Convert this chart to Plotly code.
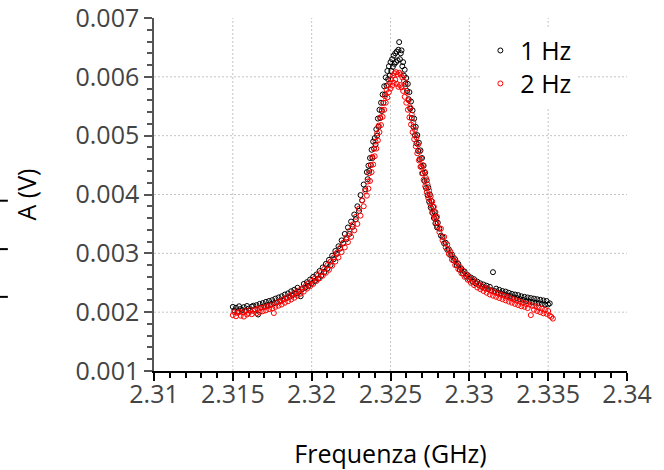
import plotly.graph_objects as go

# Frequencies (MHz) shared by both measurements
freq_mhz = [
    2315.0, 2315.1, 2315.2, 2315.3, 2315.4, 2315.5, 2315.6, 2315.7, 2315.8, 2315.9,
    2316.0, 2316.1, 2316.2, 2316.3, 2316.4, 2316.5, 2316.6, 2316.7, 2316.8, 2316.9,
    2317.0, 2317.1, 2317.2, 2317.3, 2317.4, 2317.5, 2317.6, 2317.7, 2317.8, 2317.9,
    2318.0, 2318.1, 2318.2, 2318.3, 2318.4, 2318.5, 2318.6, 2318.7, 2318.8, 2318.9,
    2319.0, 2319.1, 2319.2, 2319.3, 2319.4, 2319.5, 2319.6, 2319.7, 2319.8, 2319.9,
    2320.0, 2320.1, 2320.2, 2320.3, 2320.4, 2320.5, 2320.6, 2320.7, 2320.8, 2320.9,
    2321.0, 2321.1, 2321.2, 2321.3, 2321.4, 2321.5, 2321.6, 2321.7, 2321.8, 2321.9,
    2322.0, 2322.1, 2322.2, 2322.3, 2322.4, 2322.5, 2322.6, 2322.7, 2322.8, 2322.9,
    2323.0, 2323.1, 2323.2, 2323.3, 2323.4,
    2323.50, 2323.55, 2323.60, 2323.65, 2323.70, 2323.75, 2323.80, 2323.85, 2323.90, 2323.95,
    2324.00, 2324.05, 2324.10, 2324.15, 2324.20, 2324.25, 2324.30, 2324.35, 2324.40, 2324.45,
    2324.50, 2324.55, 2324.60, 2324.65, 2324.70, 2324.75, 2324.80, 2324.85, 2324.90, 2324.95,
    2325.00, 2325.05, 2325.10, 2325.15, 2325.20, 2325.25, 2325.30, 2325.35, 2325.40, 2325.45,
    2325.50, 2325.55, 2325.60, 2325.65, 2325.70, 2325.75, 2325.80, 2325.85, 2325.90, 2325.95,
    2326.00, 2326.05, 2326.10, 2326.15, 2326.20, 2326.25, 2326.30, 2326.35, 2326.40, 2326.45,
    2326.50, 2326.55, 2326.60, 2326.65, 2326.70, 2326.75, 2326.80, 2326.85, 2326.90, 2326.95,
    2327.00, 2327.05, 2327.10, 2327.15, 2327.20, 2327.25, 2327.30, 2327.35, 2327.40, 2327.45,
    2327.50, 2327.55, 2327.60, 2327.65, 2327.70, 2327.75, 2327.80, 2327.85, 2327.90, 2327.95,
    2328.00,
    2328.1, 2328.2, 2328.3, 2328.4, 2328.5, 2328.6, 2328.7, 2328.8, 2328.9, 2329.0,
    2329.1, 2329.2, 2329.3, 2329.4, 2329.5, 2329.6, 2329.7, 2329.8, 2329.9, 2330.0,
    2330.1, 2330.2, 2330.3, 2330.4, 2330.5, 2330.6, 2330.7, 2330.8, 2330.9, 2331.0,
    2331.1, 2331.2, 2331.3, 2331.4, 2331.5, 2331.6, 2331.7, 2331.8, 2331.9, 2332.0,
    2332.1, 2332.2, 2332.3, 2332.4, 2332.5, 2332.6, 2332.7, 2332.8, 2332.9, 2333.0,
    2333.1, 2333.2, 2333.3, 2333.4, 2333.5, 2333.6, 2333.7, 2333.8, 2333.9, 2334.0,
    2334.1, 2334.2, 2334.3, 2334.4, 2334.5, 2334.6, 2334.7, 2334.8, 2334.9, 2335.0,
    2335.1, 2335.2, 2335.3,
]

# Amplitude, 1 Hz (microvolts)
amp_1hz_uv = [
    2090, 2030, 2075, 2010, 2100, 2055, 2035, 2085, 2020, 2105,
    2060, 2025, 2095, 2110, 2050, 2120, 1960, 2140, 2080, 2155,
    2100, 2175, 2120, 2190, 2130, 2205, 2150, 2230, 2165, 2250,
    2190, 2270, 2215, 2300, 2240, 2320, 2260, 2355, 2290, 2380,
    2320, 2415, 2350, 2270, 2390, 2480, 2420, 2510, 2450, 2555,
    2490, 2600, 2530, 2640, 2570, 2700, 2620, 2760, 2680, 2820,
    2740, 2890, 2800, 2960, 2900, 3040, 2990, 3120, 3080, 3220,
    3170, 3330, 3240, 3440, 3330, 3540, 3450, 3660, 3580, 3800,
    3720, 3990, 3900, 4170, 4090,
    4380, 4260, 4490, 4400, 4620, 4500, 4760, 4620, 4900, 4780,
    4960, 4850, 5110, 5000, 5290, 5150, 5440, 5300, 5560, 5420,
    5700, 5560, 5840, 5700, 5990, 5850, 6100, 5960, 6180, 6020,
    6250, 6100, 6300, 6170, 6360, 6220, 6400, 6250, 6430, 6280,
    6460, 6590, 6300, 6400, 6450, 6180, 6250, 6020, 6120, 5880,
    5980, 5760, 5880, 5620, 5740, 5460, 5580, 5300, 5430, 5150,
    5290, 5010, 5150, 4870, 5010, 4740, 4880, 4600, 4750, 4480,
    4620, 4360, 4490, 4230, 4370, 4110, 4240, 3990, 4120, 3880,
    4000, 3780, 3890, 3690, 3790, 3600, 3700, 3510, 3610, 3440,
    3520,
    3420, 3300, 3280, 3170, 3180, 3060, 3070, 2970, 2980, 2880,
    2900, 2800, 2820, 2720, 2740, 2660, 2690, 2610, 2630, 2560,
    2590, 2520, 2560, 2490, 2520, 2460, 2490, 2430, 2470, 2410,
    2450, 2390, 2430, 2370, 2680, 2360, 2400, 2330, 2380, 2320,
    2360, 2300, 2350, 2280, 2330, 2270, 2310, 2250, 2300, 2240,
    2290, 2220, 2270, 2210, 2260, 2190, 2250, 2180, 2240, 2170,
    2230, 2160, 2220, 2150, 2210, 2140, 2200, 2130, 2190, 2130,
    2150, None, None,
]

# Amplitude, 2 Hz (microvolts)
amp_2hz_uv = [
    1950, 2000, 1930, 1985, 2010, 1940, 1995, 1925, 2020, 1960,
    1985, 2035, 1965, 2020, 2045, 1980, 2060, 2000, 2075, 2015,
    2085, 2030, 2100, 2050, 2120, 2065, 1985, 2090, 2165, 2110,
    2190, 2130, 2215, 2160, 2245, 2185, 2275, 2215, 2305, 2245,
    2335, 2280, 2370, 2315, 2405, 2350, 2445, 2400, 2490, 2440,
    2530, 2480, 2575, 2530, 2625, 2575, 2680, 2620, 2735, 2670,
    2800, 2720, 2860, 2790, 2930, 2860, 3010, 2930, 3090, 3020,
    3180, 3100, 3270, 3190, 3380, 3280, 3490, 3390, 3620, 3500,
    3760, 3640, 3900, 3800, 4060,
    3980, 4220, 4100, 4360, 4230, 4500, 4380, 4640, 4510, 4780,
    4650, 4900, 4780, 5040, 4920, 5170, 5060, 5310, 5180, 5440,
    5320, 5560, 5440, 5670, 5560, 5780, 5650, 5860, 5740, 5900,
    5800, 5960, 5850, 6020, 5900, 6060, 5950, 6080, 5880, 6040,
    5830, 6070, 5860, 6040, 5820, 5990, 5760, 5930, 5660, 5840,
    5560, 5730, 5440, 5600, 5310, 5480, 5190, 5360, 5060, 5230,
    4940, 5100, 4820, 4970, 4700, 4850, 4580, 4730, 4470, 4610,
    4360, 4500, 4250, 4390, 4140, 4280, 4040, 4170, 3940, 4070,
    3850, 3970, 3760, 3880, 3680, 3790, 3600, 3700, 3520, 3620,
    3450,
    3360, 3420, 3220, 3280, 3100, 3150, 2990, 3030, 2890, 2930,
    2800, 2850, 2730, 2770, 2660, 2700, 2600, 2640, 2550, 2590,
    2500, 2550, 2460, 2510, 2420, 2470, 2390, 2440, 2360, 2410,
    2330, 2390, 2300, 2360, 2280, 2340, 2260, 2320, 2240, 2300,
    2220, 2280, 2200, 2260, 2180, 2240, 2160, 2220, 2140, 2200,
    2120, 2180, 2100, 2160, 2090, 2140, 2070, 2130, 1950, 2110,
    2040, 2100, 2020, 2080, 2000, 2060, 1980, 2040, 1970, 2020,
    1940, 1920, 1890,
]

x_ticks = [2.31, 2.315, 2.32, 2.325, 2.33, 2.335, 2.34]
x_tick_labels = ["2.31", "2.315", "2.32", "2.325", "2.33", "2.335", "2.34"]
y_ticks = [0.001, 0.002, 0.003, 0.004, 0.005, 0.006, 0.007]
y_tick_labels = ["0.001", "0.002", "0.003", "0.004", "0.005", "0.006", "0.007"]

freq_ghz = [f / 1000.0 for f in freq_mhz]
amp_1hz_v = [None if a is None else a / 1e6 for a in amp_1hz_uv]
amp_2hz_v = [None if a is None else a / 1e6 for a in amp_2hz_uv]

FONT = "Open Sans, Noto Sans, sans-serif"
FS = 25

fig = go.Figure()
fig.add_trace(go.Scatter(
    x=freq_ghz, y=amp_1hz_v, mode="markers", name="1 Hz", legend="legend",
    marker=dict(symbol="circle-open", size=5, color="black", line=dict(width=1)),
))
fig.add_trace(go.Scatter(
    x=freq_ghz, y=amp_2hz_v, mode="markers", name="2 Hz", legend="legend2",
    marker=dict(symbol="circle-open", size=5, color="#ff0000", line=dict(width=1)),
))

shapes = []
for v in x_ticks[1:-1]:
    shapes.append(dict(type="line", xref="x", yref="paper", x0=v, x1=v, y0=0, y1=1,
                       line=dict(color="#c4c4c4", width=1, dash="2px,2px"), layer="below"))
for v in y_ticks[1:-1]:
    shapes.append(dict(type="line", xref="paper", yref="y", x0=0, x1=1, y0=v, y1=v,
                       line=dict(color="#c4c4c4", width=1, dash="2px,2px"), layer="below"))
# short marks at the far left edge of the picture
for py in [0.4824, 0.3453, 0.2100]:
    shapes.append(dict(type="line", xref="paper", yref="paper", x0=-0.3256, x1=-0.309,
                       y0=py, y1=py, line=dict(color="black", width=2)))

legend_style = dict(xanchor="left", yanchor="top", bgcolor="white",
                    font=dict(size=FS, color="black", family=FONT), itemwidth=30)

fig.update_layout(
    width=664, height=470,
    margin=dict(l=154, r=37, t=18, b=99),
    paper_bgcolor="white", plot_bgcolor="white",
    font=dict(family=FONT, size=FS, color="black"),
    showlegend=True,
    legend=dict(x=0.69, y=0.9725, **legend_style),
    legend2=dict(x=0.69, y=0.879, **legend_style),
    shapes=shapes,
)
fig.update_xaxes(
    range=[2.31, 2.34], tickvals=x_ticks, ticktext=x_tick_labels,
    showgrid=False, zeroline=False, automargin=False,
    showline=True, linecolor="black", linewidth=1.5,
    ticks="outside", ticklen=8, tickwidth=1.5, tickcolor="black",
    tickfont=dict(size=FS, color="#444", family=FONT),
    ticklabeloverflow="allow", ticklabelstandoff=-8,
    minor=dict(dtick=0.001, ticks="outside", ticklen=5, tickwidth=1.5, tickcolor="black", showgrid=False),
    title=dict(text="Frequenza (GHz)", font=dict(size=FS, color="black", family=FONT), standoff=38),
)
fig.update_yaxes(
    range=[0.001, 0.007], tickvals=y_ticks, ticktext=y_tick_labels,
    showgrid=False, zeroline=False, automargin=False,
    showline=True, linecolor="#555", linewidth=1.5,
    ticks="outside", ticklen=8, tickwidth=1.5, tickcolor="#555",
    tickfont=dict(size=FS, color="#444", family=FONT),
    ticklabeloverflow="allow",
    minor=dict(dtick=0.0002, ticks="outside", ticklen=5, tickwidth=1.5, tickcolor="#555", showgrid=False),
    title=dict(text="A (V)", font=dict(size=FS, color="black", family=FONT), standoff=32),
)

fig.write_html("out.html")
